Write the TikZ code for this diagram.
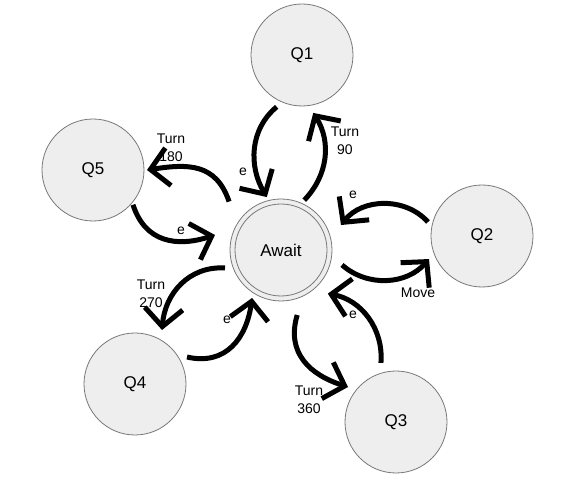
\documentclass[tikz,border=0pt]{standalone}
\usepackage{fontspec}
\setmainfont{Liberation Sans}
\usetikzlibrary{arrows.meta,calc}
\definecolor{nodefill}{RGB}{238,238,238}
\definecolor{nodeline}{RGB}{120,120,120}
\begin{document}
\begin{tikzpicture}[x=1pt,y=1pt,
  state/.style={circle,draw=nodeline,line width=0.8pt,fill=nodefill,minimum size=102pt,inner sep=0pt,outer sep=0pt,font=\fontsize{17}{20}\selectfont},
  arr/.style={line width=5pt,-{Straight Barb[length=18pt,width=38pt,line cap=butt,line join=miter]}},
  lbl/.style={font=\fontsize{14}{18}\selectfont,align=center,inner sep=0pt}]
\useasboundingbox (0,0) rectangle (574,485);
\node[state] (Q1) at (302,430) {Q1};
\node[state] (Q5) at (93,315) {Q5};
\node[state] (A) at (281,235) {Await};
\draw[nodeline,line width=0.8pt] (A) circle[radius=46pt];
\node[state] (Q2) at (482,249) {Q2};
\node[state] (Q4) at (135,101) {Q4};
\node[state] (Q3) at (396,63) {Q3};

\draw[arr] ($(Q1)+(244:57.7)$) to[out=219.7,in=120.7,looseness=1] ($(A)+(105:54.8)$);
\draw[arr] ($(A)+(65:55)$) to[bend right=38] ($(Q1)+(281:59)$);
\draw[arr] ($(A)+(137:71)$) to[out=108.7,in=8.7,looseness=1.19] ($(Q5)+(0:54)$);
\draw[arr] ($(Q5)+(319:53)$) to[out=287.9,in=197.9,looseness=1.17] ($(A)+(167.2:67.7)$);
\draw[arr] ($(Q2)+(165.5:55.8)$) to[bend right=50] ($(A)+(22.6:65)$);
\draw[arr] ($(A)+(346.2:62.8)$) to[bend right=45] ($(Q2)+(203.5:57.8)$);
\draw[arr] ($(Q3)+(104.3:61)$) to[bend right=42] ($(A)+(317:64)$);
\draw[arr] ($(A)+(284:67)$) to[out=253.3,in=162.3,looseness=1.15] ($(Q3)+(143.9:59.4)$);
\draw[arr] ($(A)+(197.8:58.8)$) to[out=176.5,in=85.5,looseness=1.05] ($(Q4)+(63.4:60.4)$);
\draw[arr] ($(Q4)+(27.4:58.6)$) to[out=347.2,in=262.2,looseness=1.17] ($(A)+(238.9:56)$);

\node[lbl] (l1) at (243,313) {e};
\node[lbl] (l2) at (345,344) {Turn\\90};
\node[lbl] (l3) at (171,337) {Turn\\180};
\node[lbl] (l4) at (181,254) {e};
\node[lbl] (l5) at (353,290) {e};
\node[lbl] (l6) at (418,192) {Move};
\node[lbl] (l7) at (353,170) {e};
\node[lbl] (l8) at (309,85) {Turn\\360};
\node[lbl] (l9) at (151,191) {Turn\\270};
\node[lbl] (l10) at (227,165) {e};
\end{tikzpicture}
\end{document}
